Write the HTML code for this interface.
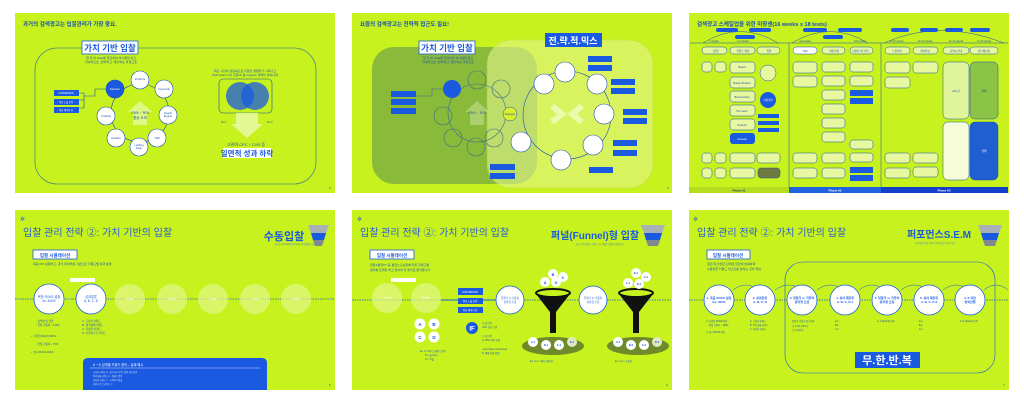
<!DOCTYPE html>
<html><head><meta charset="utf-8"><style>
html,body{margin:0;padding:0;background:#fff;width:1024px;height:403px;overflow:hidden}
svg{display:block}
text{font-family:"Liberation Sans","Noto Sans CJK KR",sans-serif}
</style></head><body>
<svg width="1024" height="403" viewBox="0 0 1024 403" xmlns="http://www.w3.org/2000/svg">
<defs>
<marker id="ar" markerWidth="4" markerHeight="4" refX="2" refY="2" orient="auto"><path d="M0,0L4,2L0,4z" fill="#1a5ae0"/></marker>
</defs>
<!-- slide backgrounds -->
<rect x="15" y="13" width="320" height="180" fill="#c8f21e"/>
<rect x="352" y="13" width="320" height="180" fill="#c8f21e"/>
<rect x="689" y="13" width="320" height="180" fill="#c8f21e"/>
<rect x="15" y="210" width="320" height="180" fill="#c8f21e"/>
<rect x="352" y="210" width="320" height="180" fill="#c8f21e"/>
<rect x="689" y="210" width="320" height="180" fill="#c8f21e"/>

<!-- ===== SLIDE 1 ===== -->
<text x="23" y="26" font-size="5.5" font-weight="bold" fill="#1a4fb0">과거의 검색광고는 입찰관리가 가장 중요.</text>
<rect x="35" y="48" width="281" height="136" rx="22" fill="none" stroke="#4f8f7a" stroke-width="0.8"/>
<rect x="82" y="41" width="56" height="13" fill="#fff" stroke="#1a5ae0" stroke-width="0.8"/>
<text x="110" y="51" font-size="8.5" font-weight="bold" fill="#1a5ae0" text-anchor="middle">가치 기반 입찰</text>
<text x="111" y="59" font-size="3" fill="#1a4fb0" text-anchor="middle">철.저.히 Data에 입각하여 의사결정 하고</text>
<text x="111" y="63" font-size="3" fill="#1a4fb0" text-anchor="middle">지속적으로 '선택'하고 '개선'하는 과정으로</text>
<g fill="none" stroke="#1a4fb0" stroke-width="0.6">
<circle cx="140" cy="113" r="29"/>
<path d="M79,93 H84 V100 H79 M84,96 H95 V89 H106"/>
<path d="M79,108 H84 V100"/>
</g>
<path d="M133,125 V112 H128 L140,101 L152,112 H147 V125z" fill="#e6f7a0" opacity="0.8"/>
<text x="140" y="114" font-size="3.5" fill="#1a4fb0" text-anchor="middle">GMV ↑ ROI</text>
<text x="140" y="119" font-size="3.5" fill="#1a4fb0" text-anchor="middle">향상 도모</text>
<g stroke="#1a4fb0" stroke-width="0.6" fill="#fff" font-size="2.6">
<circle cx="115" cy="89" r="9" fill="#1a5ae0"/>
<circle cx="140" cy="80" r="9"/><circle cx="164" cy="89" r="9"/><circle cx="168" cy="115" r="9"/>
<circle cx="157" cy="138" r="9"/><circle cx="139" cy="147" r="9"/><circle cx="116" cy="138" r="9"/><circle cx="106" cy="116" r="9"/>
</g>
<g font-size="2.6" fill="#1a4fb0" text-anchor="middle">
<text x="115" y="90" fill="#fff">Decision</text><text x="140" y="80">Products</text><text x="164" y="90">Keywords</text>
<text x="168" y="114">Search</text><text x="168" y="117">Engine</text><text x="157" y="139">T&amp;D</text>
<text x="139" y="146">Landing</text><text x="139" y="149">Page</text><text x="116" y="139">Position</text><text x="106" y="117">Tracking</text>
</g>
<g fill="#1a5ae0"><rect x="54" y="90" width="25" height="6"/><rect x="54" y="99" width="25" height="6"/><rect x="54" y="107" width="25" height="6"/></g>
<g font-size="2.3" fill="#fff" text-anchor="middle"><text x="66" y="94">CONVERSION</text><text x="66" y="103">평균 노출 순위</text><text x="66" y="111">평균 페이지 뷰</text></g>
<text x="245" y="72" font-size="3" fill="#1a4fb0" text-anchor="middle">최근 시장의 성장속도로 다양한 경쟁자가 나타나고</text>
<text x="245" y="76" font-size="3" fill="#1a4fb0" text-anchor="middle">Paid Search 외 추천/AI 등 Organic 영역이 늘어나며</text>
<rect x="219" y="79" width="53" height="34" rx="4" fill="none" stroke="#1a4fb0" stroke-width="0.6"/>
<circle cx="240" cy="96" r="14" fill="#1a5ae0" opacity="0.75"/>
<circle cx="255" cy="96" r="14" fill="#1a5ae0" opacity="0.75"/>
<path d="M236,113 V124 H231 L247,138 L263,124 H258 V113z" fill="#e6f7a0" opacity="0.9"/>
<text x="224" y="123" font-size="2.6" fill="#1a4fb0" text-anchor="middle">Ex.1</text>
<text x="270" y="123" font-size="2.6" fill="#1a4fb0" text-anchor="middle">Ex.2</text>
<text x="246" y="146" font-size="4" fill="#1a4fb0" text-anchor="middle">고관여 CPC ↑ CVR 등</text>
<rect x="223" y="148" width="48" height="10" fill="#fff"/>
<text x="247" y="156" font-size="7.5" font-weight="bold" fill="#1a5ae0" text-anchor="middle">일면적 성과 하락</text>
<text x="329" y="189" font-size="3" fill="#1a4fb0">2</text>

<!-- ===== SLIDE 2 ===== -->
<text x="360" y="26" font-size="5.5" font-weight="bold" fill="#1a4fb0">요즘의 검색광고는 전략적 접근도 필요!</text>
<rect x="372" y="47" width="165" height="137" rx="22" fill="#7fb040" opacity="0.85"/>
<rect x="487" y="40" width="166" height="148" rx="24" fill="#e3f58a" opacity="0.6" stroke="#b8d860" stroke-width="0.6"/>
<rect x="419" y="41" width="56" height="13" fill="#fff" stroke="#1a5ae0" stroke-width="0.8"/>
<text x="447" y="51" font-size="8.5" font-weight="bold" fill="#1a5ae0" text-anchor="middle">가치 기반 입찰</text>
<text x="448" y="59" font-size="3" fill="#1a4fb0" text-anchor="middle">철.저.히 Data에 입각하여 의사결정 하고</text>
<text x="448" y="63" font-size="3" fill="#1a4fb0" text-anchor="middle">지속적으로 '선택'하고 '개선'하는 과정으로</text>
<g fill="none" stroke="#3d6f8a" stroke-width="0.6"><circle cx="477" cy="113" r="29"/><path d="M416,96 H432 V89 H443"/></g>
<path d="M470,125 V112 H465 L477,101 L489,112 H484 V125z" fill="#b8d880" opacity="0.7"/>
<text x="477" y="114" font-size="3.5" fill="#2a5a9a" text-anchor="middle">GMV ↑ ROI</text>
<g stroke="#3d6f8a" stroke-width="0.6" fill="none">
<circle cx="477" cy="80" r="9"/><circle cx="501" cy="89" r="9"/><circle cx="494" cy="138" r="9"/><circle cx="476" cy="147" r="9"/><circle cx="453" cy="138" r="9"/><circle cx="443" cy="116" r="9"/>
</g>
<circle cx="452" cy="89" r="9" fill="#1a5ae0"/>
<circle cx="510" cy="114" r="7" fill="#d8f030" stroke="#1a4fb0" stroke-width="0.5"/>
<text x="510" y="115" font-size="2.4" fill="#1a4fb0" text-anchor="middle">Strategies</text>
<g fill="#1a5ae0"><rect x="391" y="91" width="25" height="6"/><rect x="391" y="99" width="25" height="6"/><rect x="391" y="108" width="25" height="6"/>
<rect x="490" y="164" width="25" height="6"/><rect x="490" y="173" width="25" height="6"/></g>
<rect x="545" y="33" width="57" height="14" fill="#1a5ae0"/>
<text x="573" y="44" font-size="9" font-weight="bold" fill="#fff" text-anchor="middle">전.략.적.믹스</text>
<g fill="none" stroke="#1a4fb0" stroke-width="0.6"><circle cx="567" cy="115" r="44"/></g>
<path d="M552,106 L562,114 L552,122 M582,106 L572,114 L582,122" stroke="#f0fbc0" stroke-width="6" fill="none" opacity="0.8"/>
<g fill="#fff" stroke="#1a4fb0" stroke-width="0.6">
<circle cx="544" cy="84" r="10"/><circle cx="565" cy="72" r="10"/><circle cx="597" cy="84" r="10"/><circle cx="604" cy="114" r="10"/>
<circle cx="593" cy="145" r="10"/><circle cx="561" cy="160" r="10"/><circle cx="521" cy="142" r="10"/>
</g>
<g fill="#1a5ae0">
<rect x="588" y="56" width="24" height="6"/><rect x="588" y="65" width="24" height="6"/>
<rect x="611" y="79" width="24" height="6"/><rect x="611" y="88" width="24" height="6"/>
<rect x="623" y="109" width="24" height="6"/><rect x="623" y="118" width="24" height="6"/>
<rect x="613" y="140" width="24" height="6"/><rect x="613" y="150" width="24" height="6"/>
<rect x="589" y="167" width="24" height="6"/>
</g>
<text x="667" y="189" font-size="3" fill="#1a4fb0">3</text>

<!-- ===== SLIDE 3 ===== -->
<text x="697" y="26" font-size="5.5" font-weight="bold" fill="#1a4fb0">검색광고 스케일업을 위한 미장센(16 weeks x 18 tests)</text>
<g fill="none" stroke="#1a4fb0" stroke-width="0.5">
<path d="M690,43 H1008"/><path d="M789,43 V187 M881,43 V187"/>
<path d="M703,43 Q740,20 778,43 M792,43 Q830,20 868,43 M884,43 Q940,18 1004,43"/>
</g>
<g fill="#1a5ae0">
<rect x="716" y="28" width="22" height="4" rx="2"/><rect x="749" y="28" width="22" height="4" rx="2"/>
<rect x="803" y="28" width="24" height="4" rx="2"/><rect x="838" y="28" width="24" height="4" rx="2"/>
<rect x="891" y="28" width="18" height="4" rx="2"/><rect x="920" y="28" width="18" height="4" rx="2"/><rect x="945" y="28" width="18" height="4" rx="2"/><rect x="970" y="28" width="20" height="4" rx="2"/>
<rect x="735" y="35" width="20" height="4" rx="2"/><rect x="823" y="35" width="20" height="4" rx="2"/>
</g>
<g font-size="2.6" fill="#1a4fb0" text-anchor="middle">
<text x="714" y="42">2 weeks</text><text x="743" y="42">2-4 weeks</text><text x="805" y="42">4-6 weeks</text><text x="860" y="42">6-8 weeks</text>
<text x="897" y="42">8-10 weeks</text><text x="925" y="42">10-12 weeks</text><text x="956" y="42">12-14 weeks</text><text x="984" y="42">14-16 weeks</text>
</g>
<g fill="#e8f8a0" stroke="#1a4fb0" stroke-width="0.5">
<rect x="702" y="47" width="25" height="7" rx="3.5"/><rect x="730" y="47" width="25" height="7" rx="3.5"/><rect x="757" y="47" width="23" height="7" rx="3.5"/>
<rect x="793" y="47" width="24" height="7" rx="3.5" fill="#fff"/><rect x="822" y="47" width="23" height="7" rx="3.5"/><rect x="850" y="47" width="23" height="7" rx="3.5"/>
<rect x="885" y="47" width="25" height="7" rx="3.5"/><rect x="913" y="47" width="25" height="7" rx="3.5"/><rect x="943" y="47" width="26" height="7" rx="3.5"/><rect x="970" y="47" width="28" height="7" rx="3.5"/>
<!-- col 1 -->
<rect x="702" y="62" width="10" height="10" rx="3"/><rect x="715" y="62" width="11" height="10" rx="3"/>
<rect x="702" y="153" width="10" height="10" rx="3"/><rect x="715" y="153" width="11" height="10" rx="3"/>
<rect x="702" y="168" width="10" height="10" rx="3"/><rect x="715" y="168" width="11" height="10" rx="3"/>
<!-- col 2 -->
<rect x="730" y="62" width="25" height="11" rx="3"/><rect x="730" y="77" width="25" height="11" rx="3"/><rect x="730" y="91" width="25" height="11" rx="3"/>
<rect x="730" y="105" width="25" height="11" rx="3"/><rect x="730" y="119" width="25" height="11" rx="3"/>
<rect x="730" y="153" width="25" height="10" rx="3"/><rect x="730" y="168" width="25" height="10" rx="3"/>
<rect x="757" y="153" width="23" height="10" rx="3"/>
<!-- col 4-6 -->
<rect x="793" y="62" width="24" height="11" rx="3"/><rect x="793" y="76" width="24" height="11" rx="3"/>
<rect x="822" y="62" width="23" height="10" rx="3"/><rect x="822" y="76" width="23" height="10" rx="3"/><rect x="822" y="90" width="23" height="10" rx="3"/>
<rect x="822" y="104" width="23" height="10" rx="3"/><rect x="822" y="118" width="23" height="10" rx="3"/><rect x="822" y="132" width="23" height="10" rx="3"/>
<rect x="793" y="153" width="24" height="10" rx="3"/><rect x="793" y="168" width="24" height="10" rx="3"/>
<rect x="822" y="153" width="23" height="10" rx="3"/><rect x="822" y="168" width="23" height="10" rx="3"/>
<rect x="850" y="62" width="23" height="10" rx="3"/><rect x="850" y="76" width="23" height="10" rx="3"/>
<rect x="850" y="140" width="23" height="9" rx="3"/><rect x="850" y="153" width="23" height="9" rx="3"/>
<rect x="885" y="62" width="25" height="11" rx="3"/><rect x="885" y="77" width="25" height="11" rx="3"/>
<rect x="885" y="153" width="25" height="10" rx="3"/><rect x="885" y="168" width="25" height="10" rx="3"/>
<rect x="913" y="62" width="25" height="11" rx="3"/><rect x="913" y="153" width="25" height="10" rx="3"/><rect x="913" y="167" width="25" height="10" rx="3"/>
<rect x="943" y="62" width="26" height="57" rx="5" fill="#e0f59a"/>
<rect x="943" y="122" width="26" height="58" rx="5" fill="#f6fcd8"/>
</g>
<rect x="970" y="62" width="28" height="57" rx="5" fill="#8cc545" stroke="#1a4fb0" stroke-width="0.5"/>
<rect x="970" y="122" width="28" height="58" rx="5" fill="#1f5fd0" stroke="#1a4fb0" stroke-width="0.5"/>
<rect x="730" y="133" width="25" height="11" rx="3" fill="#1a5ae0"/>
<circle cx="768" cy="100" r="8" fill="#1a5ae0"/>
<circle cx="768" cy="73" r="8" fill="#e8f8a0" stroke="#1a4fb0" stroke-width="0.5"/>
<g fill="#1a5ae0"><rect x="758" y="114" width="21" height="4"/><rect x="758" y="121" width="21" height="4"/><rect x="758" y="128" width="21" height="4"/>
<rect x="850" y="90" width="23" height="6"/><rect x="850" y="98" width="23" height="6"/><rect x="850" y="167" width="23" height="6"/><rect x="850" y="175" width="23" height="6"/></g>
<rect x="758" y="168" width="22" height="10" rx="3" fill="#6f7a40" stroke="#1a4fb0" stroke-width="0.5"/>
<g font-size="2.6" fill="#1a4fb0" text-anchor="middle">
<text x="715" y="52">그림형</text><text x="743" y="52">키워드 확장</text><text x="769" y="52">입찰</text>
<text x="805" y="52">T&amp;D</text><text x="834" y="52">확장소재</text><text x="861" y="52">이용자 세그먼트</text>
<text x="897" y="52">노출지면</text><text x="925" y="52">레이블링</text><text x="956" y="52">운영시간대</text><text x="984" y="52">판단페이지</text>
<text x="742" y="68">Brand</text><text x="742" y="84">Brand+Product</text><text x="742" y="98">Brand+Using</text><text x="742" y="112">Pet name</text><text x="742" y="126">Product</text>
<text x="742" y="140" fill="#fff">General</text><text x="768" y="101" fill="#fff">가치기반</text>
<text x="956" y="92">24시간</text><text x="984" y="92" fill="#1a3a7a">판매</text><text x="984" y="152" fill="#fff">판매</text>
</g>
<rect x="689" y="187" width="100" height="6" fill="#b6dc1e"/>
<rect x="789" y="187" width="92" height="6" fill="#1f63e0"/>
<rect x="881" y="187" width="127" height="6" fill="#1240c8"/>
<g font-size="3" font-weight="bold" text-anchor="middle"><text x="739" y="191.5" fill="#1a3a7a">Phase 01</text><text x="835" y="191.5" fill="#fff">Phase 02</text><text x="944" y="191.5" fill="#fff">Phase 03</text></g>

<!-- ===== SLIDE 4 ===== -->
<text x="20" y="221" font-size="6" fill="#2a5bd7">✲</text>
<text x="23" y="236" font-size="10" fill="#2a5bd7">입찰 관리 전략 ②: 가치 기반의 입찰</text>
<text x="284" y="240" font-size="11" font-weight="bold" fill="#1a5ae0" text-anchor="middle">수동입찰</text>
<path d="M308,225 H329 L325,236 H312z" fill="#a8b0b8"/><path d="M311,233 H326 L324,240 H313z" fill="#1a5ae0"/><path d="M313,240 H324 L322,246 H315z" fill="#808890"/>
<text x="295" y="245" font-size="2.4" fill="#4a7ab0" text-anchor="middle">철.저.히 Data에 입각하여 의사결정 하고</text>
<rect x="33" y="250" width="44" height="9" fill="#fff" stroke="#1a5ae0" stroke-width="0.8"/>
<text x="55" y="257" font-size="4.5" font-weight="bold" fill="#1a5ae0" text-anchor="middle">입찰 시뮬레이션</text>
<text x="33" y="265" font-size="3" fill="#1a4fb0">목표 KPI 설정하고, 과거 데이터를 기반으로 키워드별 성과 분류</text>
<rect x="70" y="278" width="25" height="4" fill="#fff"/>
<line x1="15" y1="299" x2="335" y2="299" stroke="#1a5ae0" stroke-width="0.8" stroke-dasharray="1.5,1"/>
<g fill="#fff" stroke="#1a5ae0" stroke-width="0.8"><circle cx="49" cy="299" r="15"/><circle cx="91" cy="299" r="15"/></g>
<g fill="#e4f78a" opacity="0.7"><circle cx="130" cy="299" r="15"/><circle cx="172" cy="299" r="15"/><circle cx="213" cy="299" r="15"/><circle cx="255" cy="299" r="15"/><circle cx="296" cy="299" r="15"/></g>
<g font-size="3.2" fill="#1a5ae0" text-anchor="middle"><text x="49" y="298">목표 ROAS 설정</text><text x="49" y="302">ex. 400%</text><text x="91" y="298">성과분류</text><text x="91" y="302">A, B, C, D</text></g>
<g font-size="3" fill="#fff" text-anchor="middle"><text x="130" y="300">STEP</text><text x="172" y="300">STEP</text><text x="213" y="300">STEP</text><text x="255" y="300">STEP</text><text x="296" y="300">STEP</text></g>
<g font-size="2.6" fill="#1a4fb0"><text x="36" y="322">- 검색량 및 전환</text><text x="36" y="326">- 입찰 가중치 ↑ 120%</text><text x="30" y="337">→ 기획전 ROAS 500%</text><text x="36" y="345">- 입찰 가중치 ↓ 75%</text><text x="30" y="353">→ 상시 ROAS 300%</text>
<text x="82" y="322">A : 고성과 키워드</text><text x="82" y="326">B : 평가실패 키워드</text><text x="82" y="330">C : 저성과 키워드</text><text x="82" y="334">D : 전환라스트 키워드</text></g>
<path d="M83,390 V363 Q83,358 88,358 H262 Q267,358 267,363 V390z" fill="#1a5ae0"/>
<text x="93" y="366" font-size="3.2" fill="#fff">A ~ D 성과별 키워드 정의 – 실제 예시</text>
<line x1="90" y1="368" x2="260" y2="368" stroke="#fff" stroke-width="0.4"/>
<g fill="#cfe0ff" font-size="2.2"><text x="93" y="373">고성과 키워드 A : 성과 지표 우선, 전환 성과 높음</text><text x="93" y="377">평가실패 키워드 B : 전환수 없음</text><text x="93" y="381">저성과 키워드 C : 고비용 저효율</text><text x="93" y="385">전환 라스트 키워드 D</text></g>
<text x="329" y="386" font-size="3" fill="#1a4fb0">5</text>

<!-- ===== SLIDE 5 ===== -->
<text x="357" y="221" font-size="6" fill="#2a5bd7">✲</text>
<text x="360" y="236" font-size="10" fill="#2a5bd7">입찰 관리 전략 ②: 가치 기반의 입찰</text>
<text x="595" y="239" font-size="10" font-weight="bold" fill="#1a5ae0" text-anchor="middle">퍼널(Funnel)형 입찰</text>
<path d="M641,225 H665 L661,236 H645z" fill="#a8b0b8"/><path d="M644,233 H662 L660,240 H646z" fill="#1a5ae0"/><path d="M646,240 H660 L658,246 H648z" fill="#808890"/>
<text x="600" y="245" font-size="2.3" fill="#4a7ab0" text-anchor="middle">효과 고객 전환 - 키워드 등 퍼널형 입찰로 전환 유도</text>
<rect x="370" y="250" width="44" height="9" fill="#fff" stroke="#1a5ae0" stroke-width="0.8"/>
<text x="392" y="257" font-size="4.5" font-weight="bold" fill="#1a5ae0" text-anchor="middle">입찰 시뮬레이션</text>
<text x="370" y="266" font-size="3" fill="#1a4fb0">전환&amp;평균PV 등 평균노출순위에 따른 키워드별</text>
<text x="370" y="271" font-size="3" fill="#1a4fb0">성과를 트래킹 하고 입어야 할 위치로 옮겨줍니다.</text>
<rect x="391" y="278" width="25" height="4" fill="#fff"/>
<line x1="352" y1="300" x2="672" y2="300" stroke="#1a5ae0" stroke-width="0.8" stroke-dasharray="1.5,1"/>
<line x1="441" y1="300" x2="498" y2="300" stroke="#1a5ae0" stroke-width="1"/>
<g fill="#e4f78a" opacity="0.7"><circle cx="387" cy="298" r="15"/><circle cx="426" cy="298" r="15"/></g>
<g font-size="3" fill="#fff" text-anchor="middle"><text x="387" y="299">STEP</text><text x="426" y="299">STEP</text></g>
<g fill="#1a5ae0"><rect x="458" y="288" width="25" height="7"/><rect x="458" y="298" width="25" height="6"/><rect x="458" y="307" width="25" height="6"/></g>
<g font-size="2.4" fill="#fff" text-anchor="middle"><text x="470" y="293">CONVERSION</text><text x="470" y="302">평균 노출 순위</text><text x="470" y="311">평균 페이지 뷰</text></g>
<g fill="#fff" stroke="#1a5ae0" stroke-width="0.8"><circle cx="510" cy="300" r="14"/><circle cx="593" cy="300" r="14"/></g>
<g font-size="2.6" fill="#1a5ae0" text-anchor="middle"><text x="510" y="299">입찰가 or 가중치</text><text x="510" y="303">상하향 조정</text><text x="593" y="299">입찰가 or 가중치</text><text x="593" y="303">상하향 조정</text></g>
<!-- funnels -->
<g fill="#111">
<ellipse cx="553" cy="293" rx="17" ry="4" fill="none" stroke="#111" stroke-width="2"/><path d="M536,294 Q553,300 570,294 L556,312 V333 H550 V312z"/>
<ellipse cx="636" cy="293" rx="17" ry="4" fill="none" stroke="#111" stroke-width="2"/><path d="M619,294 Q636,300 653,294 L639,312 V333 H633 V312z"/>
</g>
<ellipse cx="553" cy="346" rx="31" ry="9" fill="#6f8a2a"/><ellipse cx="638" cy="346" rx="31" ry="9" fill="#6f8a2a"/>
<g fill="#fff"><circle cx="545" cy="282" r="5"/><circle cx="553" cy="274" r="5"/><circle cx="563" cy="277" r="5"/><circle cx="556" cy="282" r="5"/>
<circle cx="628" cy="283" r="5"/><circle cx="636" cy="273" r="5"/><circle cx="646" cy="277" r="5"/><circle cx="639" cy="284" r="5"/>
<circle cx="533" cy="342" r="5"/><circle cx="546" cy="345" r="5"/><circle cx="559" cy="345" r="5"/><circle cx="572" cy="342" r="5" fill="#dfe8c0"/>
<circle cx="618" cy="342" r="5"/><circle cx="631" cy="345" r="5"/><circle cx="644" cy="345" r="5"/><circle cx="657" cy="342" r="5" fill="#dfe8c0"/></g>
<g font-size="3.8" font-weight="bold" fill="#1a5ae0" text-anchor="middle"><text x="545" y="284">A</text><text x="553" y="276">B</text><text x="563" y="279">C</text><text x="556" y="284">D</text></g>
<g font-size="2.6" font-weight="bold" fill="#1a5ae0" text-anchor="middle"><text x="628" y="284">A-1</text><text x="636" y="274">B-1</text><text x="646" y="278">C-1</text><text x="639" y="285">D-1</text>
<text x="533" y="343">A-1</text><text x="546" y="346">B-1</text><text x="559" y="346">C-1</text><text x="572" y="343">D-1</text>
<text x="618" y="343">A-2</text><text x="631" y="346">B-2</text><text x="644" y="346">C-2</text><text x="657" y="343">D-2</text></g>
<g fill="#fff"><circle cx="420" cy="324" r="5.5"/><circle cx="434" cy="324" r="5.5"/><circle cx="420" cy="337" r="5.5"/><circle cx="434" cy="337" r="5.5"/></g>
<g font-size="4.5" font-weight="bold" fill="#1a5ae0" text-anchor="middle"><text x="420" y="326">A</text><text x="434" y="326">B</text><text x="420" y="339">C</text><text x="434" y="339">D</text></g>
<circle cx="472" cy="328" r="6" fill="#1a5ae0"/><text x="472" y="330.5" font-size="6" font-weight="bold" fill="#fff" text-anchor="middle">IF</text>
<g font-size="2.4" fill="#1a4fb0"><text x="482" y="324">① 높으면</text><text x="482" y="328">CPC 상한 조정</text><text x="482" y="337">② 낮으면</text><text x="482" y="341">A. CPC 하향 조정</text><text x="482" y="350">- Next Step Considered</text><text x="482" y="354">B. 매체 상태 변경</text>
<text x="420" y="352">Ex. A = 헤이그레이스관련</text><text x="425" y="356">B = 풀사이즈</text><text x="425" y="360">C = 카울</text>
<text x="530" y="362">Ex. A-1 = 헤이그레이스</text><text x="615" y="362">Ex. A-2 = 공효진</text></g>
<text x="666" y="386" font-size="3" fill="#1a4fb0">6</text>

<!-- ===== SLIDE 6 ===== -->
<text x="693" y="221" font-size="6" fill="#2a5bd7">✲</text>
<text x="697" y="236" font-size="10" fill="#2a5bd7">입찰 관리 전략 ②: 가치 기반의 입찰</text>
<text x="939" y="238" font-size="10" font-weight="bold" fill="#1a5ae0" text-anchor="middle">퍼포먼스S.E.M</text>
<path d="M978,225 H1002 L998,236 H982z" fill="#a8b0b8"/><path d="M981,233 H999 L997,240 H983z" fill="#1a5ae0"/><path d="M983,240 H997 L995,246 H985z" fill="#808890"/>
<text x="935" y="244" font-size="2.3" fill="#4a7ab0" text-anchor="middle">주기적인 입찰 전략 반복 및 광고 운영 지속</text>
<rect x="707" y="250" width="43" height="9" fill="#fff" stroke="#1a5ae0" stroke-width="0.8"/>
<text x="728" y="257" font-size="4.5" font-weight="bold" fill="#1a5ae0" text-anchor="middle">입찰 시뮬레이션</text>
<text x="707" y="265" font-size="3" fill="#1a4fb0">일간/주간/월간 단위로 무한히 반복하며</text>
<text x="707" y="270" font-size="3" fill="#1a4fb0">수동입찰 키워드 리스트를 늘리는 것이 핵심</text>
<rect x="785" y="262" width="210" height="111" rx="18" fill="none" stroke="#1a5ae0" stroke-width="0.6"/>
<line x1="689" y1="300" x2="1009" y2="300" stroke="#1a5ae0" stroke-width="0.8" stroke-dasharray="1.5,1"/>
<g fill="none" stroke="#1a5ae0" stroke-width="0.5">
<path d="M733,290 Q746,280 758,290 M775,290 Q789,280 802,290 M817,290 Q830,280 844,290 M859,290 Q872,280 885,290 M901,290 Q914,280 928,290 M943,290 Q956,280 969,290 M984,290 Q996,280 1008,290"/>
</g>
<g fill="#fff" stroke="#1a5ae0" stroke-width="0.8">
<circle cx="719" cy="300" r="15"/><circle cx="760" cy="300" r="15"/><circle cx="802" cy="300" r="15"/><circle cx="845" cy="300" r="15"/><circle cx="887" cy="300" r="15"/><circle cx="929" cy="300" r="15"/><circle cx="970" cy="300" r="15"/>
</g>
<g font-size="3" fill="#1a5ae0" text-anchor="middle" font-weight="bold">
<text x="719" y="299">1. 목표 ROAS 설정</text><text x="719" y="303">Ex. 400%</text>
<text x="760" y="299">2. 성과분류</text><text x="760" y="303">A, B, C, D</text>
<text x="802" y="299">3. 입찰가 or 가중치</text><text x="802" y="303">상하향 조정</text>
<text x="845" y="299">4. 성과 재분류</text><text x="845" y="303">A, B, C, D-1</text>
<text x="887" y="299">5. 입찰가 or 가중치</text><text x="887" y="303">상하향 조정</text>
<text x="929" y="299">6. 성과 재분류</text><text x="929" y="303">A, B, C, D-2</text>
<text x="970" y="299">2~6 과정</text><text x="970" y="303">반복진행</text>
</g>
<g font-size="2.3" fill="#1a4fb0"><text x="706" y="322">① 기획전 ROAS 확인</text><text x="706" y="326">→ 입찰 가중치 ↑ 120%</text><text x="706" y="333">② 상시 ROAS 확인</text>
<text x="750" y="322">A. 고성과 키워드</text><text x="750" y="326">B. 평가실패 키워드</text><text x="750" y="330">C. 저성과 키워드</text>
<text x="792" y="322">입찰가 조정시 참고사항</text><text x="792" y="327">① CVR, CPA 등</text><text x="792" y="331">② 수익분석</text>
<text x="835" y="322">A-1</text><text x="835" y="326">B-1</text><text x="835" y="330">C-1</text><text x="877" y="322">2~4 차(Step) 반복</text>
<text x="919" y="322">A-2</text><text x="919" y="326">B-2</text><text x="919" y="330">C-2</text><text x="960" y="322">2~6 차(Step) 반복</text></g>
<rect x="855" y="352" width="65" height="16" fill="#1a5ae0"/>
<text x="887" y="364" font-size="11" font-weight="bold" fill="#fff" text-anchor="middle">무.한.반.복</text>
<text x="1003" y="386" font-size="3" fill="#1a4fb0">7</text>
</svg>
</body></html>
